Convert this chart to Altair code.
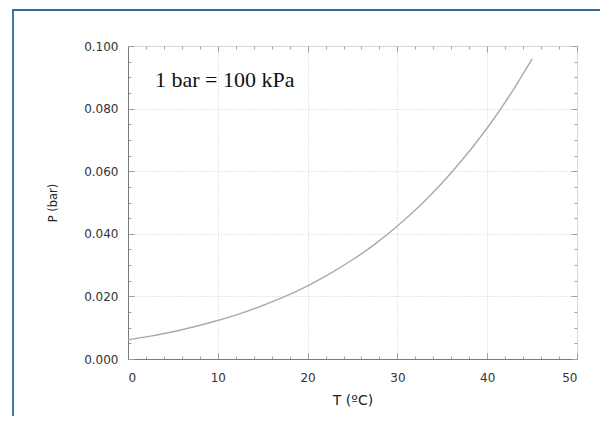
import altair as alt
import pandas as pd

# Data (vapour pressure of water)
T = [0, 2.5, 5, 7.5, 10, 12.5, 15, 17.5, 20, 22.5, 25, 27.5, 30, 32.5, 35, 37.5, 40, 42.5, 45]
P = [0.0061, 0.0073, 0.0087, 0.0104, 0.0123, 0.0145, 0.0171, 0.0200, 0.0234, 0.0273,
     0.0317, 0.0367, 0.0425, 0.0490, 0.0563, 0.0646, 0.0738, 0.0842, 0.0959]

x_major = [0, 10, 20, 30, 40, 50]
x_minor = [2, 4, 6, 8, 12, 14, 16, 18, 22, 24, 26, 28, 32, 34, 36, 38, 42, 44, 46, 48]
y_major = [0.0, 0.02, 0.04, 0.06, 0.08, 0.1]
y_minor = [0.005, 0.01, 0.015, 0.025, 0.03, 0.035, 0.045, 0.05, 0.055,
           0.065, 0.07, 0.075, 0.085, 0.09, 0.095]
note = "1 bar = 100 kPa"
x_title = "T (ºC)"
y_title = "P (bar)"

df = pd.DataFrame({"T": T, "P": P})
one = pd.DataFrame({"a": [0]})

W, H = 449, 313
xs = alt.Scale(domain=[0, 50], nice=False, zero=False)
ys = alt.Scale(domain=[0, 0.1], nice=False, zero=False)

LABEL_FONT = "DejaVu Sans"
TICK_COLOR = "#a0a0a0"
GRID_COLOR = "#cdcdcd"

base = alt.Chart(df)


def tick_axis(orient, offset, values, size):
    return alt.Axis(orient=orient, offset=offset, values=values, labels=False,
                    domain=False, grid=False, ticks=True, tickSize=size,
                    tickColor=TICK_COLOR, tickWidth=1, title=None)


def tick_layer(xaxis, yaxis):
    return base.mark_point(opacity=0).encode(
        x=alt.X("T:Q", scale=xs, axis=xaxis),
        y=alt.Y("P:Q", scale=ys, axis=yaxis),
    )


frame = alt.Chart(one).mark_rect(fillOpacity=0, stroke="#35689a", strokeWidth=1.8).encode(
    x=alt.value(-115), x2=alt.value(495), y=alt.value(-36), y2=alt.value(430)
)

line = base.mark_line(color="#aaaaaa", strokeWidth=1.4, interpolate="monotone").encode(
    x=alt.X("T:Q", scale=xs, title=x_title,
            axis=alt.Axis(orient="bottom", values=x_major, format="d", grid=True,
                          gridDash=[1, 2], gridColor=GRID_COLOR, gridWidth=1,
                          ticks=False, domainColor="#7a7a7a", domainWidth=1,
                          labelFont=LABEL_FONT, labelFontSize=12, labelColor="#333",
                          labelPadding=13, titleFont=LABEL_FONT, titleFontSize=14,
                          titleFontWeight="normal", titleColor="#222", titlePadding=10)),
    y=alt.Y("P:Q", scale=ys, title=y_title,
            axis=alt.Axis(orient="left", values=y_major, format=".3f", grid=True,
                          gridDash=[1, 2], gridColor=GRID_COLOR, gridWidth=1,
                          ticks=False, domainColor="#7a7a7a", domainWidth=1,
                          labelFont=LABEL_FONT, labelFontSize=12, labelColor="#333",
                          labelPadding=10, titleFont=LABEL_FONT, titleFontSize=11.5,
                          titleFontWeight="normal", titleColor="#222", titlePadding=25)),
)

tA = tick_layer(tick_axis("top", -H, x_major, 6), tick_axis("right", -W, y_major, 6))
tB = tick_layer(tick_axis("top", -H, x_minor, 3), tick_axis("right", -W, y_minor, 3))
tC = tick_layer(tick_axis("bottom", -H, x_major, 6), tick_axis("left", -W, y_major, 6))
tD = tick_layer(tick_axis("bottom", -H, x_minor, 3), tick_axis("left", -W, y_minor, 3))

text = alt.Chart(one).mark_text(font="Liberation Serif", fontSize=22, align="left",
                                baseline="alphabetic", color="#111").encode(
    x=alt.value(27), y=alt.value(41), text=alt.value(note)
)

chart = alt.layer(frame, tA, tB, tC, tD, line, text).resolve_axis(
    x="independent", y="independent"
).properties(
    width=W, height=H, autosize="none",
    padding={"left": 120, "top": 38, "right": 23, "bottom": 57},
).configure_view(stroke="#a0a0a0", strokeWidth=1).configure(background="white")

chart.save("out.html", embed_options={"renderer": "svg", "actions": False})
